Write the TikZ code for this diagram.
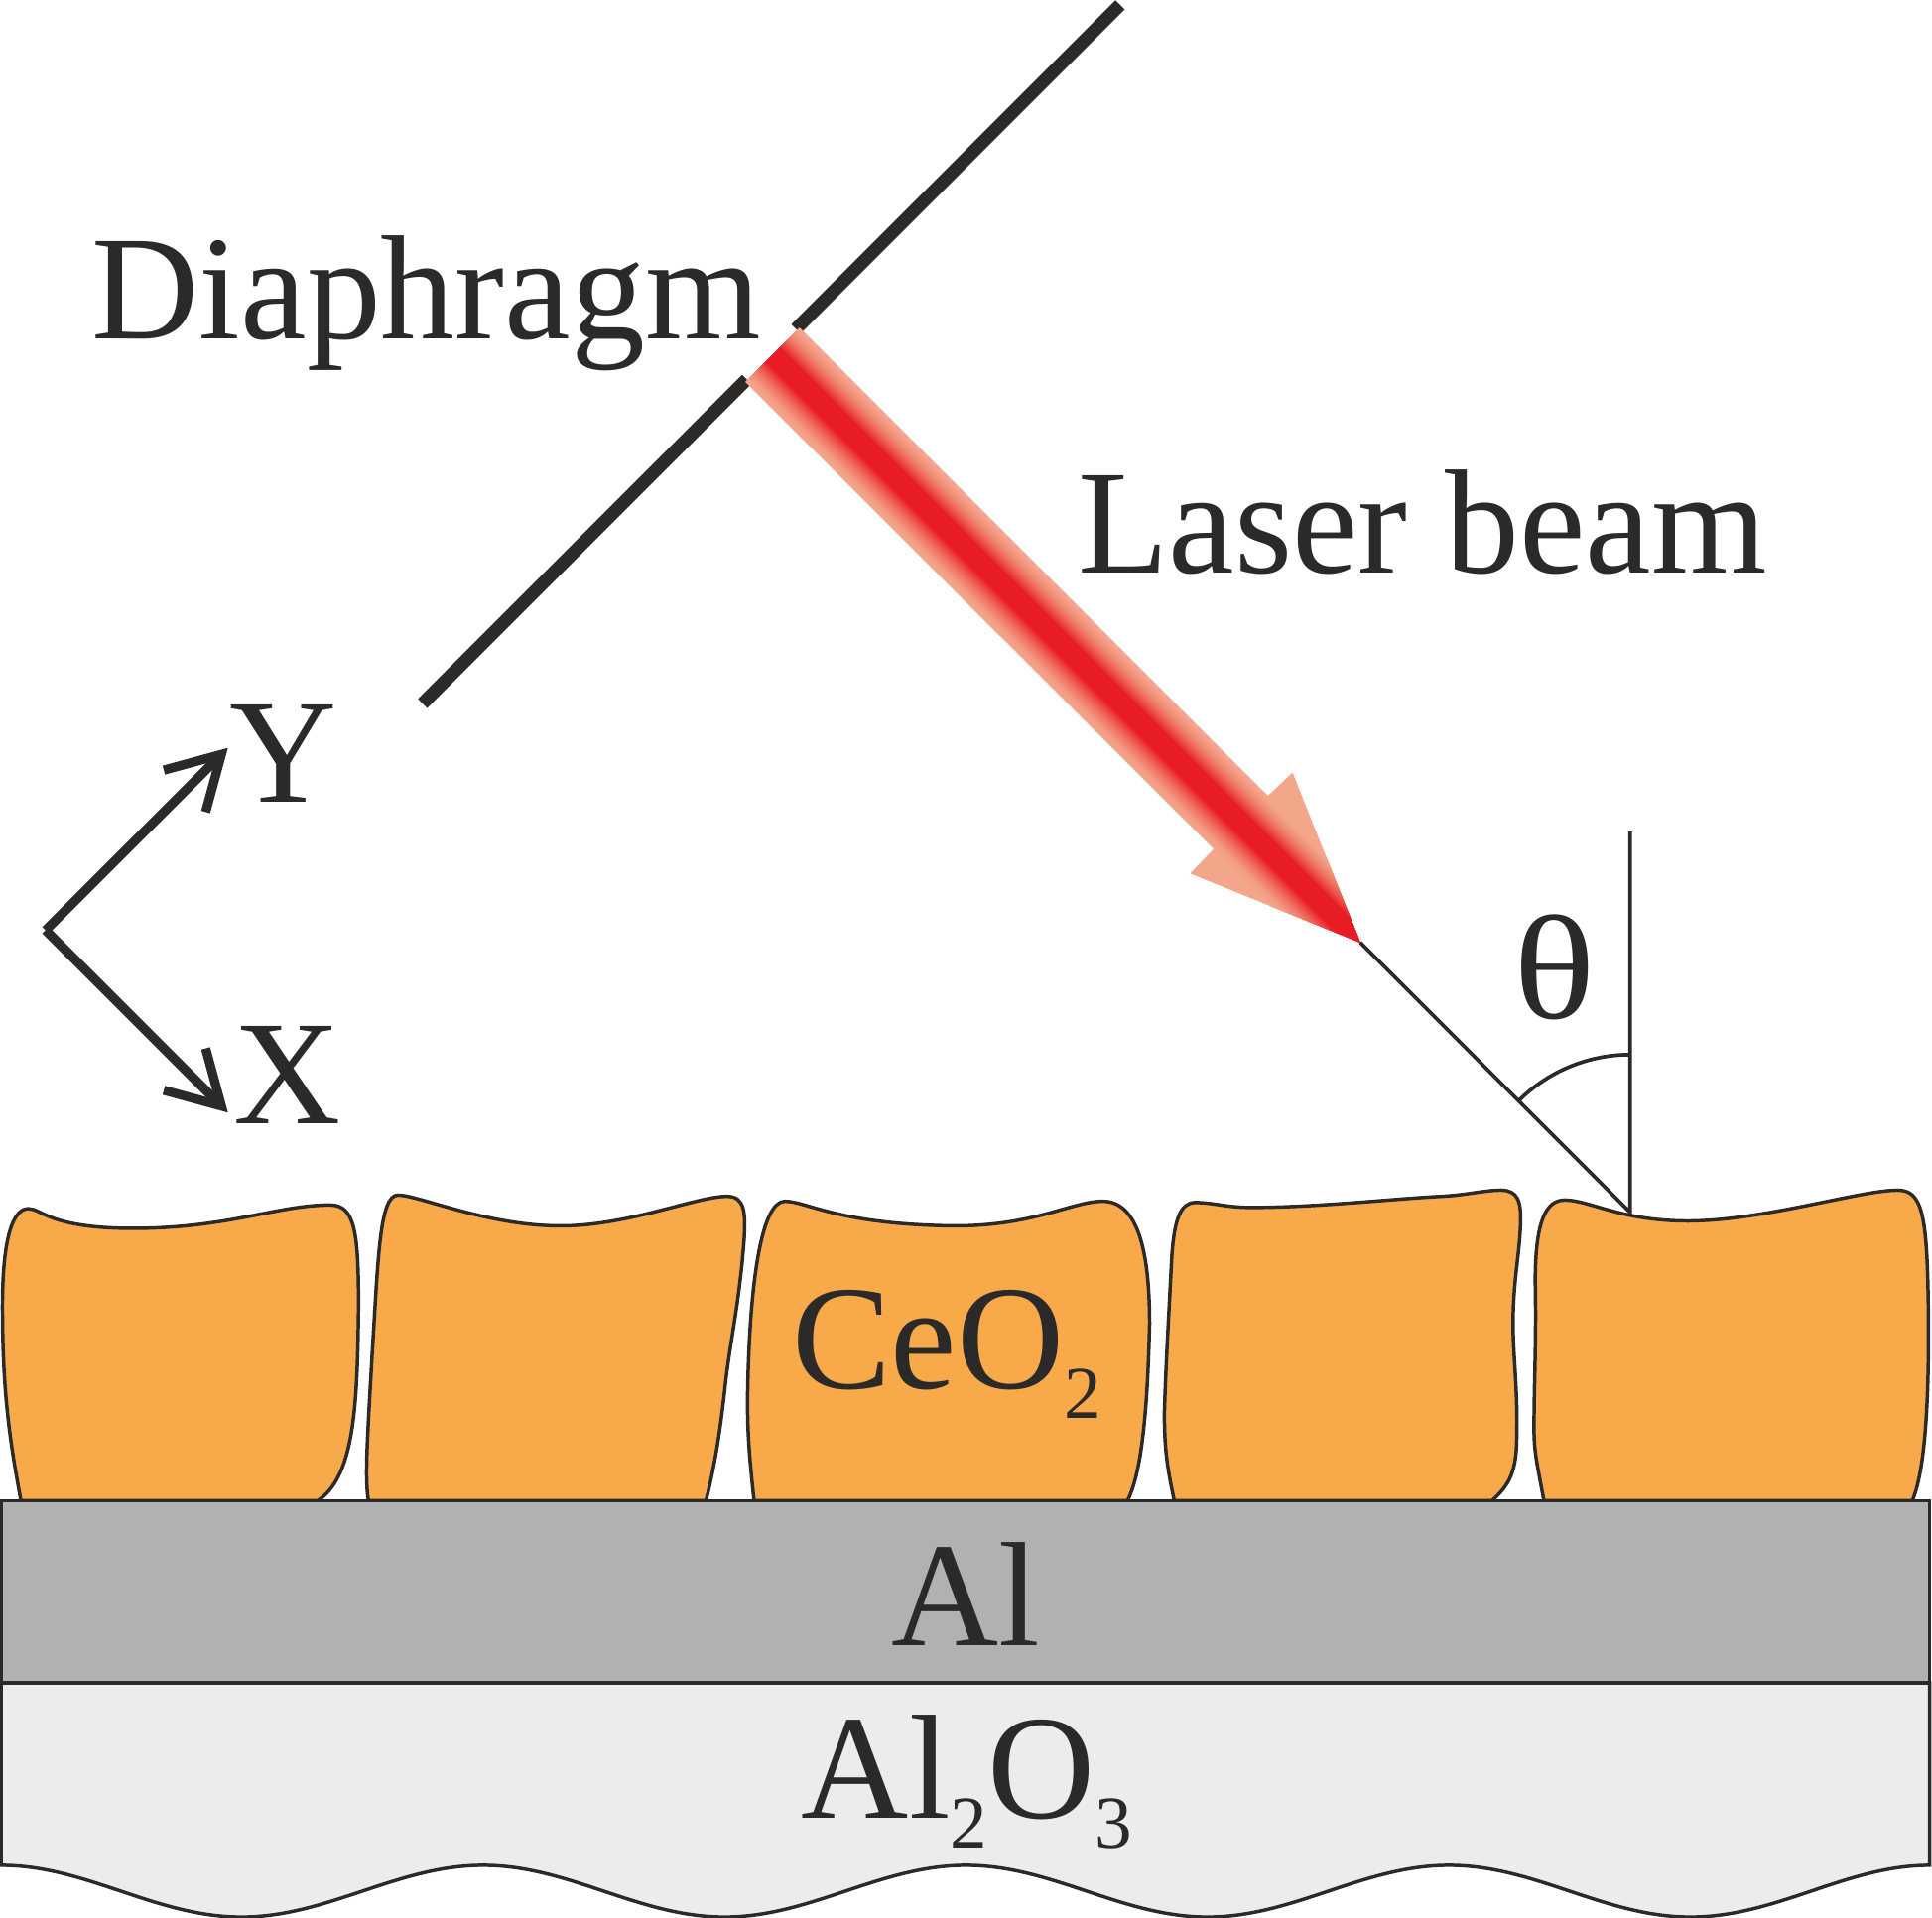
\documentclass[tikz,border=0pt]{standalone}
\usepackage{fontspec}
\setmainfont{Liberation Serif}
\usetikzlibrary{arrows.meta}
\definecolor{ink}{HTML}{2B2A29}
\definecolor{ceria}{HTML}{F8AA4A}
\definecolor{metal}{HTML}{B0B2B1}
\definecolor{sapphire}{HTML}{EBEDEC}
\definecolor{beampale}{HTML}{F4A68A}
\definecolor{beamred}{HTML}{E81C24}
\newcommand{\lowtext}[1]{\raisebox{-.2em}{\fontsize{17.2pt}{20pt}\selectfont #1}}

\begin{document}
\begin{tikzpicture}[x=0.01cm,y=-0.01cm,
      main node/.style={font=\fontsize{34.3pt}{40pt}\selectfont,text=ink,inner sep=0pt,anchor=base west},
      grain/.style={draw=ink,line width=0.028cm,fill=ceria},
      layer/.style={draw=ink,line width=0.028cm},
      thin line/.style={draw=ink,line width=0.03cm},
      plate/.style={draw=ink,line width=0.105cm},
      axis/.style={draw=ink,line width=0.075cm,-{Straight Barb[length=0.42cm,width=0.48cm]}}]
    \useasboundingbox (0,0) rectangle (1568,1556.7);
    % grains
    \draw[grain] (17,1218) .. controls (8,1170) and (2,1130) .. (2,1060)
       .. controls (2,1010) and (9,981) .. (23,981)
       .. controls (34,981) and (40,997) .. (108,997)
       .. controls (185,997) and (225,978) .. (268,978)
       .. controls (288,978) and (291,1000) .. (291,1060)
       .. controls (290,1140) and (288,1198) .. (258,1218) -- cycle;
    \draw[grain] (299,1218) .. controls (296,1200) and (298,1170) .. (302,1100)
       .. controls (307,1020) and (308,970) .. (323,970)
       .. controls (340,970) and (395,995) .. (455,995)
       .. controls (510,995) and (565,971) .. (590,971)
       .. controls (605,971) and (605,985) .. (604,1005)
       .. controls (600,1060) and (592,1090) .. (588,1130)
       .. controls (584,1165) and (580,1190) .. (573,1218) -- cycle;
    \draw[grain] (612,1218) .. controls (608,1180) and (606,1160) .. (607,1120)
       .. controls (609,1040) and (618,975) .. (637,975)
       .. controls (655,975) and (680,994) .. (775,995)
       .. controls (840,995) and (870,975) .. (895,975)
       .. controls (925,975) and (933,1020) .. (933,1075)
       .. controls (932,1110) and (930,1190) .. (915,1218) -- cycle;
    \draw[grain] (953,1218) .. controls (947,1190) and (945,1175) .. (945,1147)
       .. controls (946,1110) and (949,1060) .. (951,1020)
       .. controls (953,990) and (958,976) .. (970,976)
       .. controls (985,976) and (995,980) .. (1015,980)
       .. controls (1070,980) and (1130,973) .. (1170,971)
       .. controls (1190,970) and (1205,966) .. (1218,966)
       .. controls (1232,966) and (1235,975) .. (1234,995)
       .. controls (1233,1020) and (1228,1040) .. (1228,1075)
       .. controls (1228,1100) and (1232,1130) .. (1231,1165)
       .. controls (1231,1195) and (1225,1205) .. (1211,1218) -- cycle;
    \draw[grain] (1253,1218) .. controls (1248,1190) and (1245,1180) .. (1245,1160)
       .. controls (1245,1120) and (1247,1090) .. (1246,1040)
       .. controls (1246,990) and (1255,974) .. (1270,974)
       .. controls (1290,974) and (1315,991) .. (1370,991)
       .. controls (1430,991) and (1510,966) .. (1540,966)
       .. controls (1560,966) and (1564,985) .. (1565,1060)
       .. controls (1566,1140) and (1562,1195) .. (1552,1218) -- cycle;
    % substrate
    \draw[layer,fill=sapphire] (1,1366) -- (1,1514)
       .. controls (70,1514) and (126,1556) .. (196,1556)
       .. controls (266,1556) and (322,1514) .. (392,1514)
       .. controls (462,1514) and (518,1556) .. (588,1556)
       .. controls (658,1556) and (714,1514) .. (784,1514)
       .. controls (854,1514) and (910,1556) .. (980,1556)
       .. controls (1050,1556) and (1106,1514) .. (1176,1514)
       .. controls (1246,1514) and (1302,1556) .. (1372,1556)
       .. controls (1442,1556) and (1498,1514) .. (1566,1514)
       -- (1566,1366) -- cycle;
    \draw[layer,fill=metal] (1,1218) rectangle (1566,1366);
    % diaphragm
    \coordinate (plateA) at (909,4);
    \coordinate (plateB) at (646,267);
    \coordinate (plateC) at (606,308);
    \coordinate (plateD) at (343,571);
    \draw[plate] (plateA) -- (plateB);
    \draw[plate] (plateC) -- (plateD);
    % beam
    \coordinate (beamtail) at (627,288);
    \coordinate (beamtip) at (1104,765);
    \fill[beampale] (649,266) -- (1029,646) -- (1049,627) -- (beamtip) -- (966,709) -- (985,689) -- (605,310) -- cycle;
    \begin{scope}
      \clip (649,266) -- (1029,646) -- (1049,627) -- (beamtip) -- (966,709) -- (985,689) -- (605,310) -- cycle;
      \foreach \halfw in {31,30,...,8} {
        \pgfmathtruncatemacro{\redpart}{100*((31-\halfw)/23)^1.6}
        \draw[beamred!\redpart!beampale,line width=\halfw*0.02cm] (beamtail) -- (beamtip);
      }
    \end{scope}
    % normal and angle
    \coordinate (foot) at (1323,984);
    \coordinate (normtop) at (1323,675);
    \coordinate (arcstart) at (1323,856);
    \draw[thin line] (beamtip) -- (foot) -- (normtop);
    \draw[thin line] (arcstart) arc[start angle=-90,end angle=-135,radius=128];
    % axes
    \coordinate (origin) at (37,755);
    \coordinate (ytip) at (185,607);
    \coordinate (xtip) at (185,903);
    \draw[axis] (origin) -- (ytip);
    \draw[axis] (origin) -- (xtip);
    % labels
    \node[main node] (diaphragm) at (74,275) {Diaphragm};
    \node[main node] (laser) at (874,465) {Laser beam};
    \node[main node] (ylabel) at (186,651) {Y};
    \node[main node] (xlabel) at (189,912) {X};
    \node[main node,xscale=1.15] (theta) at (1228,827) {θ};
    \node[main node] (ceo) at (642,1127) {CeO\lowtext{2}};
    \node[main node] (al) at (723,1336) {Al};
    \node[main node] (alo) at (650,1476) {Al\lowtext{2}O\lowtext{3}};
\end{tikzpicture}
\end{document}
